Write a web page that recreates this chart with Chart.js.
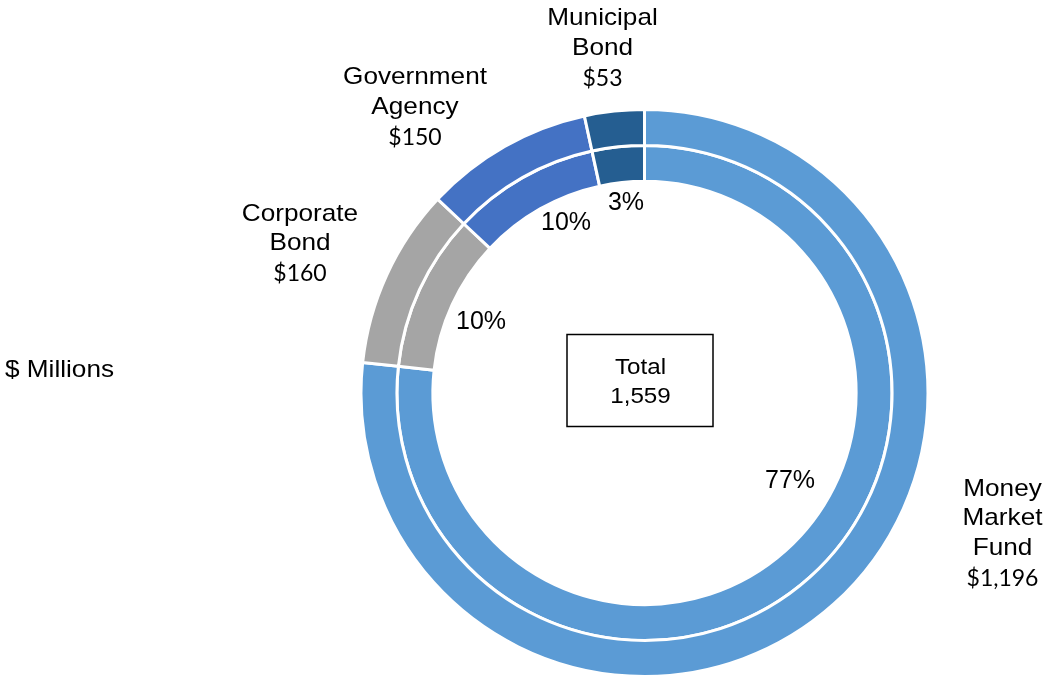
<!DOCTYPE html>
<html>
<head>
<meta charset="utf-8">
<script src="https://cdn.jsdelivr.net/npm/chart.js@4.4.0/dist/chart.umd.min.js"></script>
<style>
  html, body { margin: 0; padding: 0; background: #fff; }
  #wrap { width: 1044px; height: 678px; position: relative; }
</style>
</head>
<body>
<div id="wrap"><canvas id="holdings" width="1044" height="678"></canvas></div>
<script>
// data, clockwise from 12 o'clock
var categories = [["Money", "Market", "Fund"], ["Corporate", "Bond"], ["Government", "Agency"], ["Municipal", "Bond"]];
var amounts = [1196, 160, 150, 53];
var colors = ["#5B9BD5", "#A5A5A5", "#4472C4", "#255E91"];
var unitLabel = "$ Millions";

// label placement, offsets from the doughnut centre (x centre, first baseline)
var pctOffsets = [[145.5, 95], [-163.5, -64.5], [-78.5, -163], [-18.5, -183]];
var nameOffsets = [[358, 102.5], [-344.5, -172.5], [-229.5, -309], [-42, -368]];

var total = amounts.reduce(function(a, b) { return a + b; }, 0);

var ARIAL = "'Liberation Sans', Arial, sans-serif";

// Excel text here is a bit wider than Liberation Sans, stretch it a little
function wideText(ctx, txt, x, y, sx) {
    ctx.save();
    ctx.translate(x, y);
    ctx.scale(sx, 1);
    ctx.fillText(txt, 0, 0);
    ctx.restore();
}

var labelPlugin = {
    id: "labels",
    afterDraw: function(chart) {
        var ctx = chart.ctx;
        var arc = chart.getDatasetMeta(0).data[0];
        var cx = arc.x, cy = arc.y;
        ctx.save();
        ctx.fillStyle = "#000";
        ctx.textAlign = "center";
        ctx.textBaseline = "alphabetic";

        // percentages
        ctx.font = "25px " + ARIAL;
        for (var i = 0; i < amounts.length; i++) {
            var pct = Math.round(amounts[i] / total * 100) + "%";
            ctx.fillText(pct, cx + pctOffsets[i][0], cy + pctOffsets[i][1]);
        }

        // category names + values
        for (var j = 0; j < categories.length; j++) {
            var x = cx + nameOffsets[j][0];
            var y = cy + nameOffsets[j][1];
            ctx.font = "24px " + ARIAL;
            for (var k = 0; k < categories[j].length; k++) {
                wideText(ctx, categories[j][k], x, y + k * 29.5, 1.09);
            }
            ctx.font = "23px Lato, 'Noto Sans', sans-serif";
            ctx.fillText("$" + amounts[j].toLocaleString("en-US"), x, y + (categories[j].length - 1) * 29.5 + 31);
        }

        // total box
        ctx.strokeStyle = "#000";
        ctx.lineWidth = 1.5;
        ctx.strokeRect(cx - 77.5, cy - 58.5, 146, 92);
        ctx.font = "22px " + ARIAL;
        wideText(ctx, "Total", cx - 4, cy - 19, 1.1);
        wideText(ctx, total.toLocaleString("en-US"), cx - 4, cy + 10, 1.1);

        // unit label
        ctx.textAlign = "left";
        ctx.font = "24px " + ARIAL;
        wideText(ctx, unitLabel, 5, 377, 1.09);
        ctx.restore();
    }
};

var ring = {
    data: amounts,
    backgroundColor: colors,
    borderColor: "#ffffff",
    borderWidth: 3
};

new Chart(document.getElementById("holdings"), {
    type: "doughnut",
    data: {
        labels: categories.map(function(c) { return c.join(" "); }),
        datasets: [Object.assign({}, ring), Object.assign({}, ring)]
    },
    options: {
        responsive: false,
        animation: false,
        cutout: "74.65%",
        layout: { padding: { left: 359, right: 114, top: 108, bottom: -1 } },
        plugins: {
            legend: { display: false },
            tooltip: { enabled: false }
        }
    },
    plugins: [labelPlugin]
});
</script>
</body>
</html>
